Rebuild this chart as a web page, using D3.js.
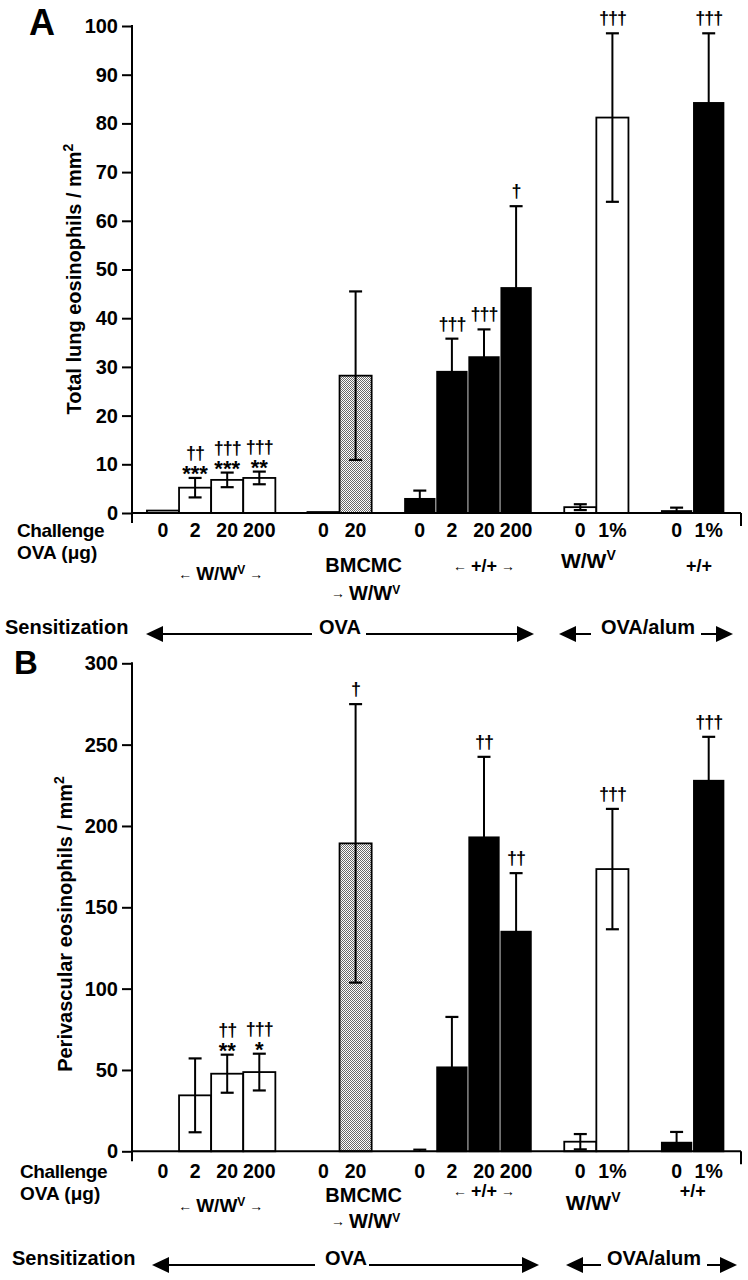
<!DOCTYPE html>
<html><head><meta charset="utf-8">
<script src="https://cdn.jsdelivr.net/npm/d3@7/dist/d3.min.js"></script>
<style>
body{margin:0;background:#fff}
svg{display:block}
text{font-family:"Liberation Sans",Arial,Helvetica,sans-serif;font-weight:bold;fill:#000}
</style>
</head><body>
<svg id="c" width="748" height="1280"></svg>
<script>
// ---------------- DATA ----------------
const slots      = [0, 1, 2, 3, 5, 6, 8, 9, 10, 11, 13, 14, 16, 17];
const doseLabels = ["0","2","20","200","0","20","0","2","20","200","0","1%","0","1%"];
const fills      = ["open","open","open","open","dotted","dotted","solid","solid","solid","solid","open","open","solid","solid"];

// Panel A: total lung eosinophils / mm2
const meanA = [0.5, 5.2, 6.8, 7.2, 0.2, 28.2, 2.9, 29.0, 32.0, 46.2, 1.2, 81.2, 0.4, 84.2];
const sdA   = [0,   2.0, 1.5, 1.3, 0,   17.3, 1.7, 6.8,  5.7,  16.8, 0.6, 17.3, 0.7, 14.3];
const starA = ["", "***", "***", "**", "", "", "", "", "", "", "", "", "", ""];
const dagA  = ["", "††", "†††", "†††", "", "", "", "†††", "†††", "†", "", "†††", "", "†††"];
const ticksA = [0,10,20,30,40,50,60,70,80,90,100];

// Panel B: perivascular eosinophils / mm2
const meanB = [0, 34.4, 47.7, 48.7, 0, 189.3, 0,   51.6, 193.0, 135.0, 5.9, 173.5, 5.3, 227.8];
const sdB   = [0, 22.7, 11.7, 11.3, 0, 85.6,  1.0, 31.0, 49.5,  36.0,  4.7, 37.0,  6.6, 27.0];
const starB = ["", "", "**", "*", "", "", "", "", "", "", "", "", "", ""];
const dagB  = ["", "", "††", "†††", "", "†", "", "", "††", "††", "", "†††", "", "†††"];
const ticksB = [0,50,100,150,200,250,300];

const groupNames = ["W/W", "BMCMC", "+/+", "W/W", "+/+"];

// ---------------- LAYOUT ----------------
const svg = d3.select("#c");
const defs = svg.append("defs");
const pat = defs.append("pattern").attr("id","dots").attr("width",2).attr("height",2)
  .attr("patternUnits","userSpaceOnUse");
pat.append("rect").attr("width",2).attr("height",2).attr("fill","#fff");
pat.append("rect").attr("x",0).attr("y",0).attr("width",1).attr("height",1).attr("fill","#6a6a6a");
pat.append("rect").attr("x",1).attr("y",1).attr("width",1).attr("height",1).attr("fill","#6a6a6a");

const x = d3.scaleLinear().domain([0,17]).range([163, 708.7]);
const axisX = 132, axisRight = 741;

function supText(sel, base, sup, supFs, dy){
  sel.append("tspan").text(base);
  sel.append("tspan").attr("font-size", supFs).attr("dy", dy).text(sup);
}

function arrowHead(g, tipX, y, dir){
  const L = 17, H = 8;
  g.append("path").attr("d", `M${tipX},${y} L${tipX - dir*L},${y-H} L${tipX - dir*L},${y+H} Z`).attr("fill","#000");
}
function hline(g, x1, x2, y){
  g.append("line").attr("x1",x1).attr("x2",x2).attr("y1",y).attr("y2",y)
    .attr("stroke","#000").attr("stroke-width",2);
}

function drawPanel(cfg){
  const g = svg.append("g");
  const y = d3.scaleLinear().domain(cfg.domain).range(cfg.range);
  const y0 = y(0);

  // panel letter
  g.append("text").attr("x", cfg.letterX).attr("y", cfg.letterY).attr("font-size", cfg.letterFs).text(cfg.letter);

  // y axis
  const ax = g.append("g").attr("transform", `translate(${axisX},0)`)
    .call(d3.axisLeft(y).tickValues(cfg.ticks).tickSize(10).tickPadding(4).tickFormat(d3.format("d")));
  ax.select(".domain").remove();
  ax.selectAll(".tick line").attr("stroke","#000").attr("stroke-width",2);
  ax.selectAll(".tick text").attr("font-size",20).attr("font-family",null).attr("fill","#000");
  g.append("line").attr("x1",axisX).attr("x2",axisX).attr("y1",y(cfg.domain[1])-1).attr("y2",y0+10)
    .attr("stroke","#000").attr("stroke-width",2);

  // y label
  const yl = g.append("text").attr("font-size",20).attr("text-anchor","middle")
    .attr("transform", `translate(${cfg.ylabX},${cfg.ylabY}) rotate(-90)`);
  supText(yl, cfg.ylabel + " / mm", "2", 14, -8);

  // bars
  const idx = d3.range(slots.length);
  const bw = i => fills[i] === "solid" ? 29.5 : 32.1;
  g.selectAll("rect.bar").data(idx.filter(i => cfg.mean[i] > 0)).join("rect").attr("class","bar")
    .attr("x", i => x(slots[i]) - bw(i)/2)
    .attr("width", bw)
    .attr("y", i => y(cfg.mean[i]))
    .attr("height", i => y0 - y(cfg.mean[i]))
    .attr("fill", i => fills[i] === "solid" ? "#000" : fills[i] === "dotted" ? "url(#dots)" : "#fff")
    .attr("stroke","#000").attr("stroke-width",1.8);

  // error bars
  idx.filter(i => cfg.sd[i] > 0).forEach(i => {
    const cx = x(slots[i]);
    const hi = cfg.mean[i] + cfg.sd[i];
    const lo = Math.max(0, cfg.mean[i] - cfg.sd[i]);
    g.append("line").attr("x1",cx).attr("x2",cx).attr("y1",y(lo)).attr("y2",y(hi))
      .attr("stroke","#000").attr("stroke-width",2);
    g.append("line").attr("x1",cx-6.5).attr("x2",cx+6.5).attr("y1",y(hi)).attr("y2",y(hi))
      .attr("stroke","#000").attr("stroke-width",2.2);
    if (lo > 0 && fills[i] !== "solid")
      g.append("line").attr("x1",cx-6.5).attr("x2",cx+6.5).attr("y1",y(lo)).attr("y2",y(lo))
        .attr("stroke","#000").attr("stroke-width",2.2);
  });

  // significance marks
  idx.forEach(i => {
    const cx = x(slots[i]);
    const top = y(cfg.mean[i] + cfg.sd[i]);
    if (cfg.star[i]) {
      g.append("text").attr("x",cx).attr("y",top + 3).attr("text-anchor","middle")
        .attr("font-size",22).text(cfg.star[i]);
      if (cfg.dag[i]) g.append("text").attr("x",cx).attr("y",top - 19).attr("text-anchor","middle")
        .attr("font-size",18).attr("letter-spacing",-1).text(cfg.dag[i]);
    } else if (cfg.dag[i]) {
      g.append("text").attr("x",cx).attr("y",top - 9).attr("text-anchor","middle")
        .attr("font-size",18).attr("letter-spacing",-1).text(cfg.dag[i]);
    }
  });

  // x axis line with end tick
  g.append("line").attr("x1",axisX).attr("x2",axisRight).attr("y1",y0).attr("y2",y0)
    .attr("stroke","#000").attr("stroke-width",2);
  g.append("line").attr("x1",axisRight).attr("x2",axisRight).attr("y1",y0).attr("y2",y0+13)
    .attr("stroke","#000").attr("stroke-width",2);

  // x category labels
  g.append("text").attr("x",cfg.rowX).attr("y",cfg.chalY).attr("font-size",19)
    .attr("letter-spacing",-0.4).text("Challenge");
  g.append("text").attr("x",cfg.rowX).attr("y",cfg.ovaY).attr("font-size",19).text("OVA (μg)");
  g.selectAll("text.dose").data(idx).join("text").attr("class","dose")
    .attr("x", i => x(slots[i])).attr("y", cfg.doseY).attr("text-anchor","middle")
    .attr("font-size",19.5).text(i => doseLabels[i]);

  // group labels
  const gl = cfg.groups;
  // W/Wv with small arrows
  let t = g.append("text").attr("x", x(gl[0].s)).attr("y", gl[0].y).attr("text-anchor","middle").attr("font-size",19);
  t.append("tspan").attr("font-size",14).attr("dy",-1).text("← ");
  t.append("tspan").attr("dy",1).text(groupNames[0]);
  t.append("tspan").attr("font-size",12).attr("dy",-6).text("V");
  t.append("tspan").attr("font-size",14).attr("dy",5).text(" →");
  // BMCMC -> W/Wv
  g.append("text").attr("x", x(gl[1].s)).attr("y", gl[1].y).attr("text-anchor","middle").attr("font-size",20).text(groupNames[1]);
  t = g.append("text").attr("x", x(gl[1].s) + 2).attr("y", gl[1].y2).attr("text-anchor","middle").attr("font-size",20);
  t.append("tspan").attr("font-size",14).attr("dy",-2).text("→ ");
  t.append("tspan").attr("dy",2).text("W/W");
  t.append("tspan").attr("font-size",12).attr("dy",-6).text("V");
  // +/+ with arrows
  t = g.append("text").attr("x", x(gl[2].s)).attr("y", gl[2].y).attr("text-anchor","middle").attr("font-size",18);
  t.append("tspan").attr("font-size",14).attr("dy",-1).text("← ");
  t.append("tspan").attr("dy",1).text(groupNames[2]);
  t.append("tspan").attr("font-size",14).attr("dy",-1).text(" →");
  // alum W/Wv
  t = g.append("text").attr("x", x(gl[3].s)).attr("y", gl[3].y).attr("text-anchor","middle").attr("font-size",21);
  t.append("tspan").text(groupNames[3]);
  t.append("tspan").attr("font-size",14).attr("dy",-8).text("V");
  // alum +/+
  g.append("text").attr("x", x(gl[4].s)).attr("y", gl[4].y).attr("text-anchor","middle").attr("font-size",18).text(groupNames[4]);

  // sensitization row
  const s = cfg.sens, sy = s.y;
  g.append("text").attr("x", s.textX).attr("y", sy).attr("font-size",20).text("Sensitization");
  arrowHead(g, s.a1, sy, -1); hline(g, s.a1 + 10, s.a2, sy);
  g.append("text").attr("x", s.ovaX).attr("y", sy).attr("text-anchor","middle").attr("font-size",20).text("OVA");
  hline(g, s.a3, s.a4 - 10, sy); arrowHead(g, s.a4, sy, 1);
  arrowHead(g, s.b1, sy, -1); hline(g, s.b1 + 10, s.b2, sy);
  g.append("text").attr("x", s.alumX).attr("y", sy).attr("text-anchor","middle").attr("font-size",20).text("OVA/alum");
  hline(g, s.b3, s.b4 - 10, sy); arrowHead(g, s.b4, sy, 1);
}

drawPanel({
  letter:"A", letterX:29, letterY:35, letterFs:36,
  domain:[0,100], range:[513,26], ticks:ticksA,
  mean:meanA, sd:sdA, star:starA, dag:dagA,
  ylabel:"Total lung eosinophils", ylabX:81, ylabY:279,
  rowX:17, doseY:537, chalY:537, ovaY:559,
  groups:[{s:1.8, y:580},{s:6.25, y:572, y2:600},{s:10, y:572},{s:13.25, y:568},{s:16.7, y:572}],
  sens:{y:634, textX:5, a1:146, a2:312, ovaX:340, a3:366, a4:534, b1:559, b2:591, alumX:648, b3:701, b4:733}
});

drawPanel({
  letter:"B", letterX:14, letterY:674, letterFs:33,
  domain:[0,300], range:[1151.3,663.3], ticks:ticksB,
  mean:meanB, sd:sdB, star:starB, dag:dagB,
  ylabel:"Perivascular eosinophils", ylabX:72, ylabY:924,
  rowX:20, doseY:1178, chalY:1178, ovaY:1200,
  groups:[{s:1.8, y:1212},{s:6.25, y:1202, y2:1228},{s:10, y:1197},{s:13.4, y:1210},{s:16.5, y:1197}],
  sens:{y:1265, textX:12, a1:152, a2:315, ovaX:346, a3:369, a4:539, b1:566, b2:601, alumX:654, b3:707, b4:737}
});
</script>
</body></html>
